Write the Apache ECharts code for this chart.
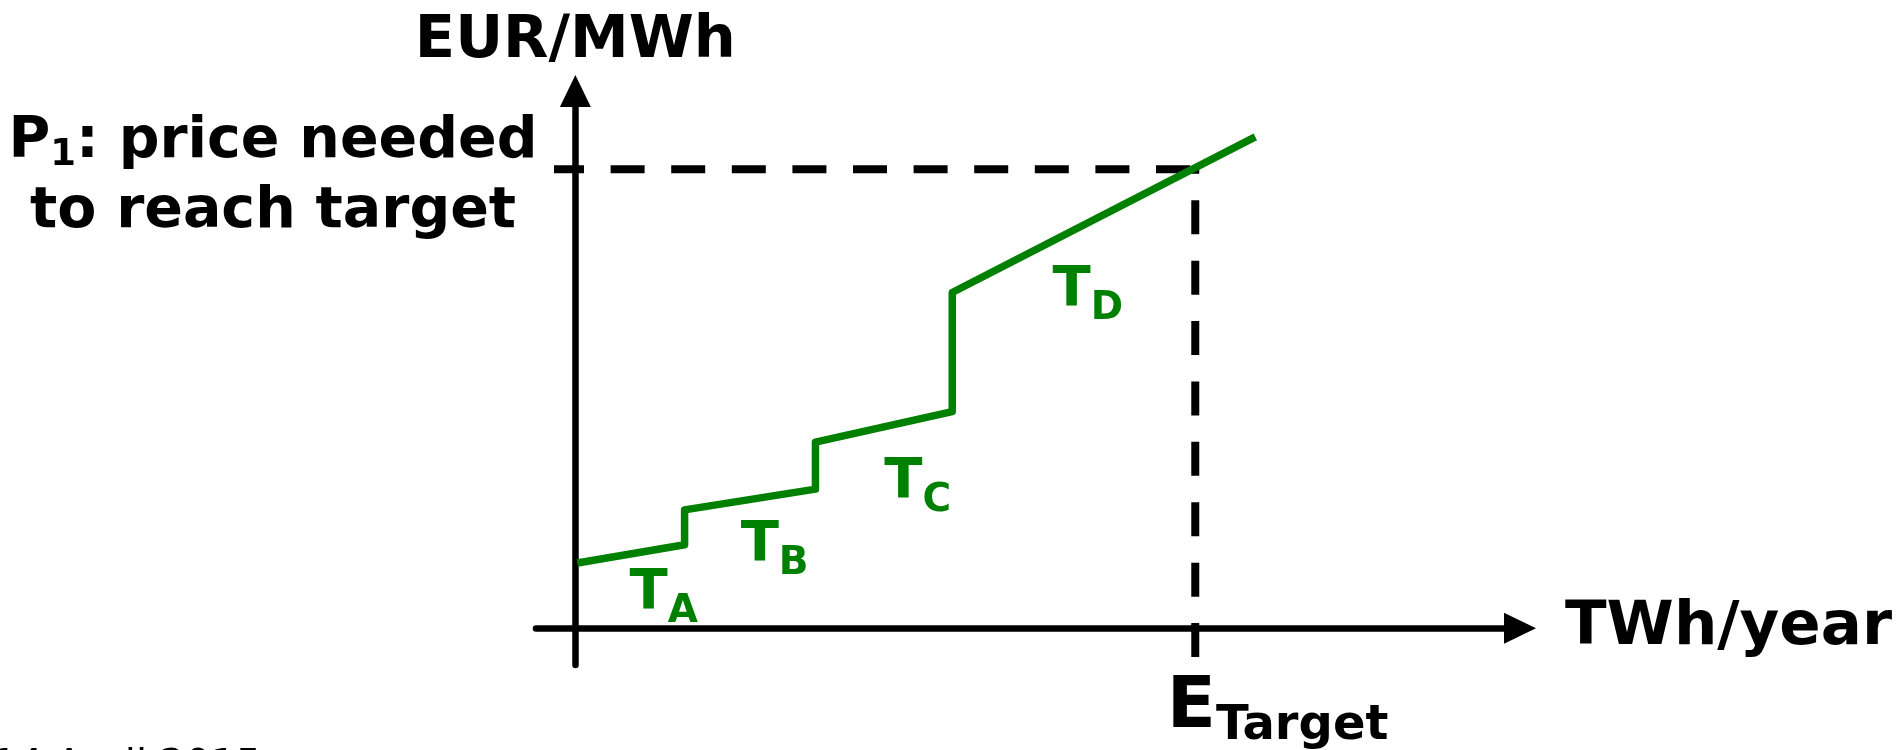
<!DOCTYPE html>
<html>
<head>
<meta charset="utf-8">
<script src="https://cdn.jsdelivr.net/npm/echarts@6/dist/echarts.min.js"></script>
<style>
html,body{margin:0;padding:0;background:#fff;}
#chart{width:1901px;height:750px;}
</style>
</head>
<body>
<div id="chart"></div>
<script>
// ---- data (arbitrary units: TWh/year on x, EUR/MWh on y) ----
const supplyX = [0.2, 11.1, 11.1, 24.4, 24.4, 38.3, 38.3, 69.1];
const supplyY = [10.7, 13.7, 19.4, 22.8, 30.5, 35.5, 55.0, 80.5];
const trancheNames = ['A', 'B', 'C', 'D'];
const trancheLabelX = [5.5, 16.8, 31.4, 48.5];
const trancheLabelY = [4.83, 12.83, 23.13, 54.53];
const targetEnergy = 63;
const targetPrice = 75.2;
const axisRangeX = [-4, 96];
const axisRangeY = [-6, 88];
const guideStartX = -2.17;
const guideEndY = -4.7;
const targetLabelPos = [60.1, -13.6];

const FONT = 'DejaVu Sans';
const GREEN = '#008000';

const supplyData = supplyX.map((x, i) => [x, supplyY[i]]);
const trancheData = trancheNames.map((n, i) => ({ value: [trancheLabelX[i], trancheLabelY[i]], name: n }));

const chart = echarts.init(document.getElementById('chart'));
chart.setOption({
  animation: false,
  backgroundColor: '#fff',
  grid: { left: 536, right: 381, top: 91, bottom: 85, containLabel: false, outerBoundsMode: 'none' },
  xAxis: {
    type: 'value', min: axisRangeX[0], max: axisRangeX[1],
    name: 'TWh/year', nameLocation: 'end', nameGap: 45,
    nameTextStyle: { fontFamily: FONT, fontWeight: 'bold', fontSize: 61, color: '#000', align: 'left', verticalAlign: 'middle' },
    axisLine: { show: true, onZero: true, symbol: ['none', 'triangle'], symbolSize: [31, 32], lineStyle: { color: '#000', width: 6.5 } },
    axisTick: { show: false }, axisLabel: { show: false }, splitLine: { show: false }
  },
  yAxis: {
    type: 'value', min: axisRangeY[0], max: axisRangeY[1],
    name: 'EUR/MWh', nameLocation: 'end', nameGap: 49,
    nameTextStyle: { fontFamily: FONT, fontWeight: 'bold', fontSize: 59, color: '#000', align: 'center', verticalAlign: 'middle' },
    axisLine: { show: true, onZero: true, symbol: ['none', 'triangle'], symbolSize: [31, 32], lineStyle: { color: '#000', width: 6.5 } },
    axisTick: { show: false }, splitLine: { show: false },
    axisLabel: {
      show: true, customValues: [targetPrice], margin: 263, align: 'center', verticalAlign: 'middle',
      padding: [26, 0, 0, 0],
      formatter: () => '{p1|P}{s|1}{p1|: price needed}\n{p2|to reach target}',
      rich: {
        p1: { fontFamily: FONT, fontWeight: 'bold', fontSize: 57, lineHeight: 60, verticalAlign: 'top', color: '#000' },
        s: { fontFamily: FONT, fontWeight: 'bold', fontSize: 37, verticalAlign: 'bottom', color: '#000' },
        p2: { fontFamily: FONT, fontWeight: 'bold', fontSize: 57, lineHeight: 76, verticalAlign: 'middle', color: '#000' }
      }
    }
  },
  series: [
    {
      name: 'target price', type: 'line', symbol: 'none', silent: true,
      data: [[guideStartX, targetPrice], [targetEnergy, targetPrice]],
      lineStyle: { color: '#000', width: 8, type: [34, 26.6], dashOffset: 4, cap: 'butt' }
    },
    {
      name: 'target energy', type: 'line', symbol: 'none', silent: true, clip: false,
      data: [[targetEnergy, guideEndY], [targetEnergy, targetPrice]],
      lineStyle: { color: '#000', width: 8, type: [34, 26.4], dashOffset: 0, cap: 'butt' }
    },
    {
      name: 'supply curve', type: 'line', symbol: 'none', silent: true,
      data: supplyData,
      lineStyle: { color: GREEN, width: 7.5, join: 'round', cap: 'butt' }
    },
    {
      name: 'tranches', type: 'scatter', symbolSize: 1, clip: false, silent: true,
      itemStyle: { color: 'transparent', opacity: 1 },
      data: trancheData,
      label: {
        show: true, position: 'inside', align: 'left', verticalAlign: 'middle',
        formatter: p => '{t|T}{s|' + p.name + '}',
        rich: {
          t: { fontFamily: FONT, fontWeight: 'bold', fontSize: 56, lineHeight: 66, verticalAlign: 'top', color: GREEN },
          s: { fontFamily: FONT, fontWeight: 'bold', fontSize: 39, verticalAlign: 'bottom', color: GREEN }
        }
      }
    },
    {
      name: 'target label', type: 'scatter', symbolSize: 1, clip: false, silent: true,
      itemStyle: { color: 'transparent', opacity: 1 },
      data: [{ value: targetLabelPos, name: 'Target' }],
      label: {
        show: true, position: 'inside', align: 'left', verticalAlign: 'middle',
        formatter: p => '{e|E}{s|' + p.name + '}',
        rich: {
          e: { fontFamily: FONT, fontWeight: 'bold', fontSize: 72, lineHeight: 78, verticalAlign: 'top', color: '#000' },
          s: { fontFamily: FONT, fontWeight: 'bold', fontSize: 48, verticalAlign: 'bottom', color: '#000' }
        }
      }
    }
  ],
  graphic: [
    { type: 'text', left: -8, top: 748, silent: true,
      style: { text: '14 April 2015', fontFamily: FONT, fontSize: 40, fill: '#000' } }
  ]
});
</script>
</body>
</html>
